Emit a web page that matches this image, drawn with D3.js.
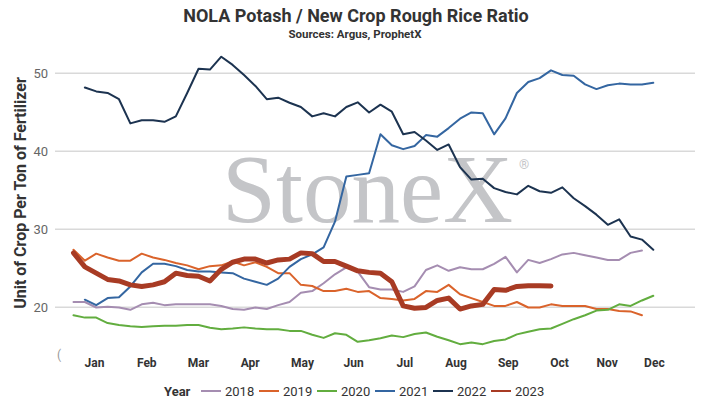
<html>
  <head>
    <script src="https://cdnjs.cloudflare.com/ajax/libs/d3/7.9.0/d3.min.js"></script>
    <style>
      body { margin: 0; background: #fff; }
      text { font-family: Roboto, 'Noto Sans', sans-serif; }
      text.mark { font-family: 'Liberation Serif', 'DejaVu Serif', serif; }
    </style>
  </head>
  <body onload="main()">
  </body>
  <script>
    // weekly ratio values, index = week of year (0..51), null = no data
    const years = ['2018', '2019', '2020', '2021', '2022', '2023']
    const colors = ['#a58db1', '#da632b', '#62ad3f', '#3466a1', '#1c3350', '#a83b24']
    const widths = [2, 2, 2, 2, 2, 5]

    const y2018 = [20.6, 20.6, 19.9, 20.0, 19.9, 19.6, 20.3, 20.5, 20.2, 20.3, 20.3, 20.3, 20.3, 20.1, 19.7, 19.6, 19.9, 19.7, 20.2, 20.6,
      21.8, 22.0, 23.0, 24.15, 25.05, 24.5, 22.5, 22.2, 22.2, 21.9, 22.6, 24.7, 25.3, 24.6, 25.05, 24.8, 24.8, 25.5, 26.4, 24.4,
      26.0, 25.6, 26.1, 26.7, 26.9, 26.6, 26.3, 26.0, 26.0, 26.9, 27.2, null]
    const y2019 = [27.3, 25.9, 26.8, 26.3, 25.9, 25.9, 26.8, 26.3, 26.0, 25.6, 25.3, 24.8, 25.2, 25.3, 25.8, 25.3, 25.7, 25.1, 24.3, 24.3,
      22.8, 22.65, 22.0, 22.0, 22.3, 21.9, 22.0, 21.1, 21.0, 20.8, 21.0, 22.0, 21.9, 22.8, 21.6, 21.1, 20.6, 20.1, 20.1, 20.6,
      19.9, 19.9, 20.3, 20.1, 20.1, 20.1, 19.7, 19.7, 19.45, 19.4, 18.9, null]
    const y2020 = [18.9, 18.6, 18.6, 17.9, 17.65, 17.5, 17.4, 17.5, 17.55, 17.55, 17.65, 17.65, 17.3, 17.1, 17.2, 17.35, 17.2, 17.1, 17.1, 16.9,
      16.9, 16.4, 16.0, 16.6, 16.4, 15.5, 15.7, 15.95, 16.3, 16.1, 16.5, 16.7, 16.15, 15.7, 15.2, 15.4, 15.2, 15.6, 15.8, 16.45,
      16.8, 17.1, 17.2, 17.8, 18.4, 18.9, 19.5, 19.6, 20.3, 20.1, 20.8, 21.4]
    const y2021 = [null, 20.9, 20.2, 21.1, 21.2, 22.6, 24.4, 25.5, 25.5, 25.2, 24.7, 24.5, 24.5, 24.4, 24.3, 23.6, 23.2, 22.8, 23.6, 25.1,
      26.1, 26.7, 27.6, 30.9, 36.7, 36.9, 37.1, 42.1, 40.7, 40.2, 40.6, 42.0, 41.8, 42.9, 44.1, 44.9, 44.8, 42.1, 44.15, 47.4,
      48.8, 49.3, 50.3, 49.7, 49.6, 48.5, 47.9, 48.4, 48.6, 48.5, 48.5, 48.7]
    const y2022 = [null, 48.1, 47.6, 47.4, 46.6, 43.5, 43.9, 43.9, 43.7, 44.4, 47.4, 50.5, 50.4, 52.05, 51.0, 49.7, 48.3, 46.6, 46.8, 46.15,
      45.6, 44.4, 44.8, 44.4, 45.6, 46.2, 44.9, 45.9, 45.0, 42.1, 42.4, 41.3, 40.1, 40.8, 37.9, 36.3, 36.4, 35.2, 34.7, 34.4,
      35.5, 34.8, 34.6, 35.3, 33.9, 32.9, 31.8, 30.5, 31.2, 29.0, 28.6, 27.3]
    const y2023 = [26.9, 25.1, 24.3, 23.5, 23.3, 22.8, 22.6, 22.8, 23.2, 24.3, 24.0, 23.9, 23.3, 24.8, 25.7, 26.1, 26.1, 25.6, 26.0, 26.1,
      26.9, 26.8, 25.8, 25.8, 25.2, 24.6, 24.4, 24.3, 23.2, 20.1, 19.8, 19.9, 20.8, 21.1, 19.7, 20.1, 20.3, 22.2, 22.1, 22.6,
      22.7, 22.7, 22.65, null, null, null, null, null, null, null, null, null]
    const series = [y2018, y2019, y2020, y2021, y2022, y2023]

    const months = ['Jan', 'Feb', 'Mar', 'Apr', 'May', 'Jun', 'Jul', 'Aug', 'Sep', 'Oct', 'Nov', 'Dec']
    const monthWeeks = [1.8, 6.4, 10.95, 15.5, 20.1, 24.6, 29.1, 33.6, 38.2, 42.7, 46.9, 51.05]
    const yTicks = [20, 30, 40, 50]

    function main() {
      const width = 715
      const height = 404
      const svg = d3.select('body')
        .append('svg')
        .attr('width', width)
        .attr('height', height)

      const x = d3.scaleLinear([0, 51], [73.5, 653.3])
      const y = d3.scaleLinear([20, 50], [306.7, 72.7])

      // titles
      svg.append('text')
        .attr('x', 356).attr('y', 22)
        .attr('text-anchor', 'middle')
        .attr('font-size', 18).attr('font-weight', 'bold')
        .attr('fill', '#333')
        .text('NOLA Potash / New Crop Rough Rice Ratio')
      svg.append('text')
        .attr('x', 355).attr('y', 38)
        .attr('text-anchor', 'middle')
        .attr('font-size', 11.5).attr('font-weight', 'bold')
        .attr('fill', '#333')
        .text('Sources: Argus, ProphetX')

      // gridlines + y labels
      const yAxis = svg.append('g')
        .attr('transform', 'translate(55,0)')
        .call(d3.axisRight(y).tickValues(yTicks).tickSize(640).tickFormat(''))
      yAxis.select('.domain').remove()
      yAxis.selectAll('line').attr('stroke', '#d9d9d9').attr('stroke-width', 1.5)
      svg.append('g')
        .selectAll('text')
        .data(yTicks)
        .enter()
        .append('text')
        .attr('x', 48)
        .attr('y', d => y(d) + 5)
        .attr('text-anchor', 'end')
        .attr('font-size', 13)
        .attr('fill', '#666')
        .text(d => d)
      svg.append('text')
        .attr('x', 57).attr('y', 359)
        .attr('font-size', 12)
        .attr('fill', '#999')
        .text('(')

      svg.append('text')
        .attr('transform', 'translate(26,193) rotate(-90)')
        .attr('text-anchor', 'middle')
        .attr('font-size', 16).attr('font-weight', 'bold')
        .attr('fill', '#333')
        .text('Unit of Crop Per Ton of Fertilizer')

      // watermark
      svg.append('text')
        .classed('mark', true)
        .attr('x', 222).attr('y', 222)
        .attr('font-size', 97)
        .attr('fill', '#c4c5c8')
        .text('StoneX')
      svg.append('text')
        .attr('x', 519).attr('y', 169)
        .attr('font-size', 13)
        .attr('fill', '#c4c5c8')
        .text('®')

      // x axis labels
      const xAxis = svg.append('g')
        .attr('transform', 'translate(0,355)')
        .call(d3.axisBottom(x).tickValues(monthWeeks).tickSize(0).tickFormat((d, i) => months[i]))
      xAxis.select('.domain').remove()
      xAxis.selectAll('text')
        .attr('font-size', 12).attr('font-weight', 'bold')
        .attr('fill', '#333')

      // lines
      const line = d3.line()
        .defined(d => d != null)
        .x((d, i) => x(i))
        .y(d => y(d))
      svg.append('g')
        .selectAll('path')
        .data(series)
        .enter()
        .append('path')
        .attr('d', line)
        .attr('fill', 'none')
        .attr('stroke', (d, i) => colors[i])
        .attr('stroke-width', (d, i) => widths[i])
        .attr('stroke-linejoin', 'round')
        .attr('stroke-linecap', 'round')

      // legend
      const legend = svg.append('g').attr('transform', 'translate(0,396)')
      legend.append('text')
        .attr('x', 164)
        .attr('font-size', 13).attr('font-weight', 'bold')
        .attr('fill', '#333')
        .text('Year')
      const item = legend.selectAll('.item')
        .data(years)
        .enter()
        .append('g')
        .classed('item', true)
        .attr('transform', (d, i) => `translate(${201 + i * 58},0)`)
      item.append('line')
        .attr('x1', 0).attr('x2', 20)
        .attr('y1', -5).attr('y2', -5)
        .attr('stroke', (d, i) => colors[i])
        .attr('stroke-width', 2)
      item.append('text')
        .attr('x', 24)
        .attr('font-size', 13)
        .attr('fill', '#333')
        .text(d => d)
    }
  </script>
</html>
